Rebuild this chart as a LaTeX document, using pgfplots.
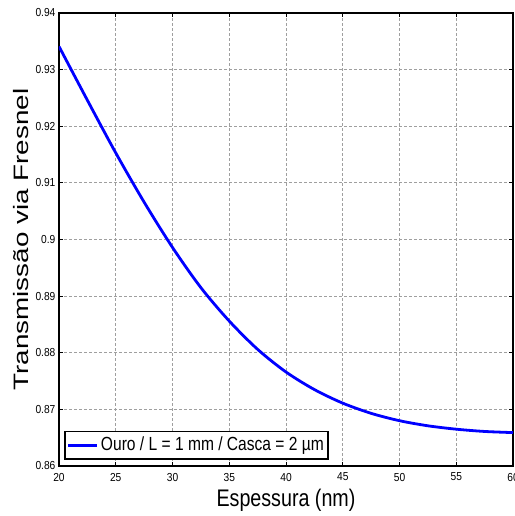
\documentclass[border=0pt]{standalone}
\usepackage{fontspec}
\usepackage{graphicx}
\setmainfont{Liberation Sans}
\newfontfamily\narrowfont[FakeStretch=0.82]{Liberation Sans}
\newfontfamily\ticknarrow[FakeStretch=0.88]{Liberation Sans}
\usepackage{pgfplots}
\pgfplotsset{compat=1.18}
\usetikzlibrary{calc}
\definecolor{curveblue}{RGB}{0,0,255}
\begin{document}
\begin{tikzpicture}
\begin{axis}[
  name=ax,
  scale only axis,
  width=227pt, height=226.5pt,
  xmin=20, xmax=60, ymin=0.86, ymax=0.94,
  xtick={20,25,...,60},
  xticklabels={20,25,30,35,40,45,50,55,60},
  ytick={0.86,0.87,0.88,0.89,0.90,0.91,0.92,0.93,0.94},
  yticklabels={0.86,0.87,0.88,0.89,0.9,0.91,0.92,0.93,0.94},
  scaled y ticks=false, scaled x ticks=false,
  tick align=inside,
  major tick length=2pt,
  tick style={black, line width=0.5pt},
  axis line style={black, line width=0.8pt},
  grid=major,
  major grid style={gray!75, line width=0.45pt, dash pattern=on 1.5pt off 1pt},
  ticklabel style={font=\ticknarrow\fontsize{5.8pt}{6pt}\selectfont},
  yticklabel style={inner sep=0pt, anchor=east, xshift=-1.6pt},
  xticklabel style={inner sep=0pt, anchor=north, yshift=-3.3pt},
  xlabel={\narrowfont\fontsize{12pt}{14pt}\selectfont Espessura (nm)},
  xlabel style={at={(axis description cs:0.5,-0.0905)}, anchor=base},
  ylabel={\scalebox{1}[0.75]{\fontsize{13.9pt}{15pt}\selectfont Transmissão via Fresnel}},
  ylabel style={at={(axis description cs:-0.0837,0.5)}, anchor=center},
  legend style={at={(axis description cs:0,0)}, anchor=south west,
    xshift=2.5pt, yshift=3pt, draw=black, line width=0.8pt, fill=white,
    inner xsep=1pt, inner ysep=1.2pt,
    font=\narrowfont\fontsize{9.5pt}{10pt}\selectfont,
    nodes={inner xsep=1.2pt, inner ysep=1.5pt}},
  legend image code/.code={\draw[#1, line width=1.4pt] (0pt,0pt) -- (14.5pt,0pt);},
]
\addplot[curveblue, line width=1.4pt, smooth] coordinates {
(20,0.9341) (22.5,0.9246) (25,0.9153) (27.5,0.9066) (30,0.8986)
(32.5,0.8915) (35,0.8856) (37.5,0.8806) (40,0.8766) (42.5,0.8735)
(45,0.8711) (47.5,0.8693) (50,0.8680) (52.5,0.8671) (55,0.8665)
(57.5,0.8661) (60,0.8659)
};
\addlegendentry{Ouro / L = 1 mm / Casca = 2 µm}
\end{axis}
\pgfresetboundingbox
\useasboundingbox ($(ax.south west)+(-29.5pt,-25pt)$) rectangle ($(ax.north east)+(0.5pt,6.5pt)$);
\end{tikzpicture}
\end{document}
